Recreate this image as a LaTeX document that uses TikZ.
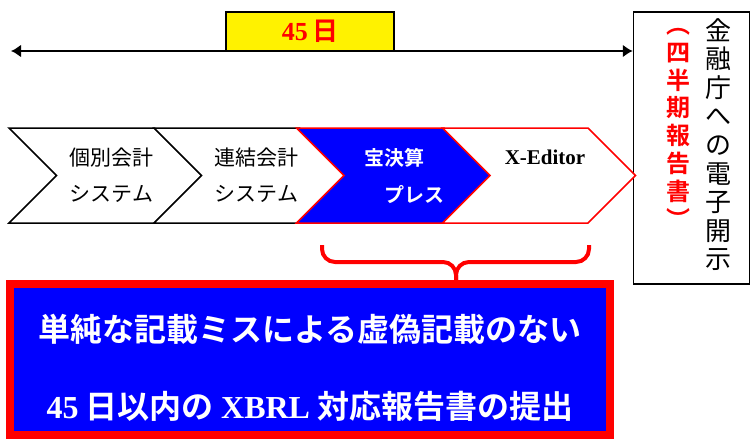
\documentclass[tikz,border=0pt]{standalone}
\usepackage{fontspec}
\setmainfont{Liberation Serif}
\newfontfamily\jpfont[BoldFont={Noto Sans CJK JP Bold}]{Noto Sans CJK JP}
\usetikzlibrary{arrows.meta,shapes.symbols}

\newcommand{\latb}[1]{{\rmfamily\bfseries #1}}

\tikzset{
  chevron/.style={signal, signal from=west, signal to=east, draw=black,
    line width=1.5pt, fill=white, minimum width=193pt, minimum height=95pt,
    inner sep=0pt, align=center, font=\jpfont\fontsize{21}{24}\selectfont},
  hotchevron/.style={chevron, draw=red},
  brace/.style={draw=red, line width=4pt, rounded corners=13pt},
}

\begin{document}
\begin{tikzpicture}[x=1pt,y=-1pt]
\useasboundingbox (0,0) rectangle (750,439);

%period on top
\node[draw=black, line width=1.2pt, fill=yellow, minimum width=168pt, minimum height=39pt,
  text=red, font=\fontsize{26}{28}\selectfont] (period) at (310,31.5)
  {\latb{45}\,{\jpfont\bfseries 日}};

\node[draw=black, line width=1.5pt, minimum width=116pt, minimum height=272pt] (disclosure) at (691.5,148) {};
\node[anchor=north, inner sep=0pt, align=center, text=red,
  font=\jpfont\bfseries\fontsize{24}{27.8}\selectfont] (quarterly) at (678,28)
  {︵\\四\\半\\期\\報\\告\\書\\︶};
\node[anchor=north, inner sep=0pt, align=center,
  font=\jpfont\fontsize{26}{28.6}\selectfont] (fsa) at (718,18)
  {金\\融\\庁\\へ\\の\\電\\子\\開\\示};

%arrows
\coordinate (start) at (11,51);
\draw[line width=2pt, {Latex[length=10pt,width=13pt]}-{Latex[length=10pt,width=13pt]}]
  (start) -- (start -| disclosure.west);

%process chain
\node[chevron] (kobetsu) at (105.5,175.5) {\hspace*{12pt}個別会計\\[12pt]\hspace*{12pt}システム};
\node[chevron] (renketsu) at (250.5,175.5) {\hspace*{12pt}連結会計\\[12pt]\hspace*{12pt}システム};
\node[hotchevron, fill=blue, text=white, font=\jpfont\bfseries\fontsize{20}{24}\selectfont] (takara) at (394,175.5)
  {宝決算\\[13pt]\hspace*{2em}プレス};
\node[hotchevron] (xeditor) at (539,175.5) {\hspace*{12pt}\latb{X-Editor}\\[12pt]\phantom{シ}};

%summary
\node[draw=red, line width=8pt, fill=blue, minimum width=600pt, minimum height=151pt,
  text=white, align=center, font=\jpfont\bfseries\fontsize{32}{36}\selectfont] (goal) at (310,359.5)
  {\rule{0pt}{44pt}単純な記載ミスによる虚偽記載のない\\[41pt]\latb{45} 日以内の \latb{XBRL} 対応報告書の提出};

\coordinate (bracetip) at (goal.north -| 456,0);
\draw[brace] (322,245) |- (456,262) -- (bracetip);
\draw[brace] (589,245) |- (456,262) -- (bracetip);

\end{tikzpicture}
\end{document}
